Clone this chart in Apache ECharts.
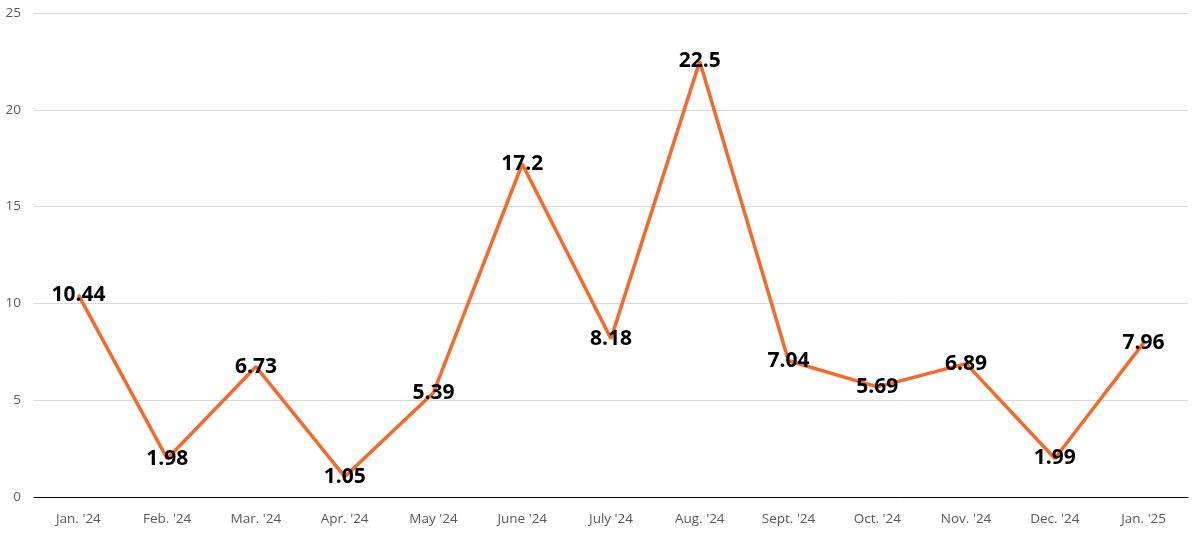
<!DOCTYPE html>
<html>
<head>
<meta charset="utf-8">
<script src="https://cdn.jsdelivr.net/npm/echarts@6/dist/echarts.min.js"></script>
<style>
  html, body { margin: 0; padding: 0; background: #fff; }
  #chart { width: 1200px; height: 535px; }
</style>
</head>
<body>
<div id="chart"></div>
<script>
// 月份与数值
var months = ["Jan. '24", "Feb. '24", "Mar. '24", "Apr. '24", "May '24", "June '24",
  "July '24", "Aug. '24", "Sept. '24", "Oct. '24", "Nov. '24", "Dec. '24", "Jan. '25"];
var values = [10.44, 1.98, 6.73, 1.05, 5.39, 17.2, 8.18, 22.5, 7.04, 5.69, 6.89, 1.99, 7.96];
var yTicks = [0, 5, 10, 15, 20, 25];

var myChart = echarts.init(document.getElementById('chart'));
var option = {
  animation: false,
  grid: { left: 34, right: 12, top: 13, bottom: 38 },
  xAxis: {
    type: 'category',
    data: months,
    boundaryGap: true,
    axisLine: { lineStyle: { color: '#000', width: 1 } },
    axisTick: { show: false },
    axisLabel: { color: '#595959', fontSize: 13.5, margin: 15, fontFamily: 'Open Sans' }
  },
  yAxis: {
    type: 'value',
    min: yTicks[0],
    max: yTicks[yTicks.length - 1],
    interval: 5,
    axisLine: { show: false },
    axisTick: { show: false },
    axisLabel: { color: '#595959', fontSize: 13.5, margin: 13, fontFamily: 'Open Sans' },
    splitLine: { lineStyle: { color: '#d9d9d9', width: 1 } }
  },
  series: [{
    type: 'line',
    data: values,
    symbol: 'circle',
    symbolSize: 2,
    showSymbol: true,
    itemStyle: { color: 'rgba(0,0,0,0)', borderWidth: 0 },
    lineStyle: { color: '#F7692B', width: 3.5 },
    labelLayout: { hideOverlap: false },
    label: {
      show: true,
      position: 'inside',
      offset: [0, 2],
      color: '#000',
      fontSize: 21,
      fontWeight: 'bold',
      fontFamily: 'Open Sans'
    }
  }]
};
myChart.setOption(option);
</script>
</body>
</html>
